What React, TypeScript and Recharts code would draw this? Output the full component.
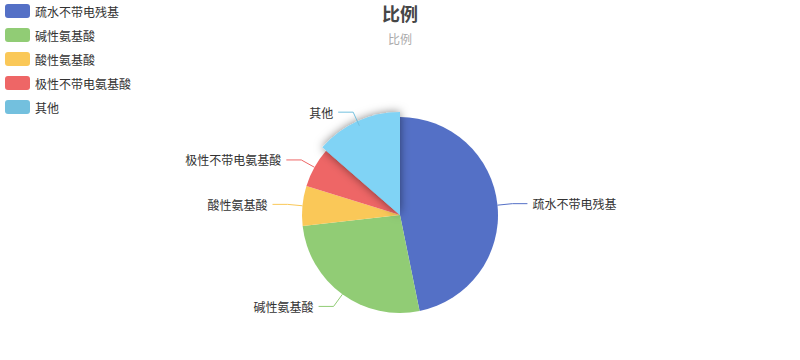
import React from 'react';
import { PieChart, Pie, Cell } from 'recharts';

const categories = ['疏水不带电残基', '碱性氨基酸', '酸性氨基酸', '极性不带电氨基酸', '其他'];
const shares = [46.8, 26.4, 6.6, 6.6, 13.6];
const colors = ['#5470c6', '#91cc75', '#fac858', '#ee6666', '#73c0de'];
const highlightIndex = 4;
const highlightColor = '#80d3f5';
const titleText = '比例';
const subtitleText = '比例';

const data = categories.map((name, i) => ({ name, value: shares[i] }));

const FONT = "'Noto Sans CJK SC', 'Noto Sans', sans-serif";
const CX = 400;
const CY = 215;
const R = 98;

const RAD = Math.PI / 180;

// Label with two-segment leader line: radial then horizontal
const renderLabel = (props: any) => {
  const { cx, cy, midAngle, outerRadius, index, name } = props;
  const cos = Math.cos(-midAngle * RAD);
  const sin = Math.sin(-midAngle * RAD);
  const x0 = cx + outerRadius * cos;
  const y0 = cy + outerRadius * sin;
  const x1 = cx + (outerRadius + 15) * cos;
  const y1 = cy + (outerRadius + 15) * sin;
  const right = cos >= 0;
  const x2 = x1 + (right ? 15 : -15);
  const tx = x2 + (right ? 5 : -5);
  return (
    <g key={`lbl-${index}`}>
      <polyline
        points={`${x0},${y0} ${x1},${y1} ${x2},${y1}`}
        fill="none"
        stroke={colors[index]}
        strokeWidth={1}
      />
      <text
        x={tx}
        y={y1}
        textAnchor={right ? 'start' : 'end'}
        dominantBaseline="central"
        fill="#333"
        fontSize={12}
        fontFamily={FONT}
      >
        {name}
      </text>
    </g>
  );
};

export default function App() {
  return (
    <div style={{ position: 'absolute', left: 0, top: 0, width: 800, height: 360, background: '#fff' }}>
      <PieChart width={800} height={360} margin={{ top: 0, right: 0, bottom: 0, left: 0 }}>
        <defs>
          <filter id="sliceShadow" x="-50%" y="-50%" width="200%" height="200%">
            <feDropShadow dx="0" dy="0" stdDeviation="5" floodColor="#000" floodOpacity="0.5" />
          </filter>
        </defs>
        <text x={400} y={13} textAnchor="middle" dominantBaseline="central" fontSize={18} fontWeight="bold" fill="#464646" fontFamily={FONT}>
          {titleText}
        </text>
        <text x={400} y={38} textAnchor="middle" dominantBaseline="central" fontSize={12} fill="#aaa" fontFamily={FONT}>
          {subtitleText}
        </text>
        <Pie
          data={data}
          dataKey="value"
          nameKey="name"
          cx={CX}
          cy={CY}
          outerRadius={R}
          startAngle={90}
          endAngle={-270}
          stroke="none"
          label={renderLabel}
          labelLine={false}
          isAnimationActive={false}
        >
          {data.map((d, i) => (
            <Cell key={d.name} fill={colors[i]} />
          ))}
        </Pie>
        <Pie
          data={data}
          dataKey="value"
          nameKey="name"
          cx={CX}
          cy={CY}
          outerRadius={R + 5}
          startAngle={90}
          endAngle={-270}
          stroke="none"
          label={false}
          labelLine={false}
          isAnimationActive={false}
        >
          {data.map((d, i) => (
            <Cell
              key={d.name}
              fill={i === highlightIndex ? highlightColor : 'none'}
              filter={i === highlightIndex ? 'url(#sliceShadow)' : undefined}
            />
          ))}
        </Pie>
        <g>
          {categories.map((name, i) => (
            <g key={name}>
              <rect x={5} y={4 + i * 24} width={25} height={14} rx={3} ry={3} fill={colors[i]} />
              <text x={35} y={11 + i * 24} dominantBaseline="central" fontSize={12} fill="#333" fontFamily={FONT}>
                {name}
              </text>
            </g>
          ))}
        </g>
      </PieChart>
    </div>
  );
}
